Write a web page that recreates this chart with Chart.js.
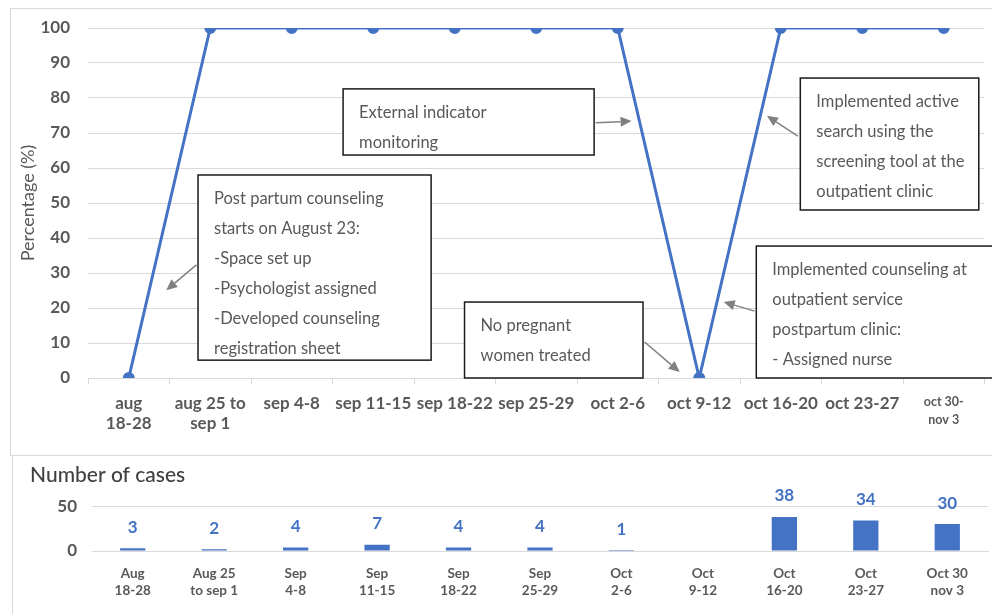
<!DOCTYPE html>
<html>
<head>
<meta charset="utf-8">
<script src="https://cdn.jsdelivr.net/npm/chart.js@4/dist/chart.umd.min.js"></script>
<style>
  html, body { margin: 0; padding: 0; background: #fff; }
  body { width: 992px; height: 614px; position: relative; overflow: hidden; }
  .panel { position: absolute; box-sizing: border-box; border: 1px solid #d9d9d9; background: #fff; }
  #topPanel { left: 10px; top: 8px; width: 990px; height: 448px; }
  #bottomPanel { left: 12px; top: 455px; width: 990px; height: 170px; }
  canvas { position: absolute; display: block; }
  #pct { left: 10px; top: 8px; }
  #cases { left: 12px; top: 455px; }
</style>
</head>
<body>
<div class="panel" id="topPanel"></div>
<div class="panel" id="bottomPanel"></div>
<canvas id="pct" width="982" height="447"></canvas>
<canvas id="cases" width="980" height="159"></canvas>
<script>
// Weekly periods for the percentage chart (upper panel)
const weekLabelsTop = [
  ['aug', '18-28'], ['aug 25 to', 'sep 1'], 'sep 4-8', 'sep 11-15', 'sep 18-22',
  'sep 25-29', 'oct 2-6', 'oct 9-12', 'oct 16-20', 'oct 23-27', ['oct 30-', 'nov 3']
];
// Percentage of women screened / counseled each week
const percentScreened = [0, 100, 100, 100, 100, 100, 100, 0, 100, 100, 100];

// Weekly periods for the case count chart (lower panel)
const weekLabelsBottom = [
  ['Aug', '18-28'], ['Aug 25', 'to sep 1'], ['Sep', '4-8'], ['Sep', '11-15'], ['Sep', '18-22'],
  ['Sep', '25-29'], ['Oct', '2-6'], ['Oct', '9-12'], ['Oct', '16-20'], ['Oct', '23-27'], ['Oct 30', 'nov 3']
];
// Number of cases per week
const caseCounts = [3, 2, 4, 7, 4, 4, 1, 0, 38, 34, 30];

// Callout notes, placed in chart units (category index, percentage)
const notes = [
  { lines: ['Post partum counseling', 'starts on August 23:', '-Space set up', '-Psychologist assigned', '-Developed counseling', 'registration sheet'],
    box: [0.85, 58, 3.71, 5.1], arrow: [[0.83, 32.3], [0.46, 25.1]] },
  { lines: ['External indicator', 'monitoring'],
    box: [2.63, 82.6, 5.71, 63.7], arrow: [[5.73, 72.9], [6.17, 73.4]] },
  { lines: ['No pregnant', 'women treated'],
    box: [4.12, 21.7, 6.31, 0], arrow: [[6.33, 10.3], [6.76, 1.7]] },
  { lines: ['Implemented active', 'search using the', 'screening tool at the', 'outpatient clinic'],
    box: [8.24, 85.7, 10.43, 48], arrow: [[8.21, 69.1], [7.83, 74.9]] },
  { lines: ['Implemented counseling at', 'outpatient service', 'postpartum clinic:', '- Assigned nurse'],
    box: [7.70, 37.7, 10.7, 0], arrow: [[7.68, 19.1], [7.30, 21.7]] }
];

const BLUE = '#4472C4';
const GREY_TEXT = '#595959';
const GRID = '#d9d9d9';
Chart.defaults.font.family = 'Lato, "Open Sans", sans-serif';

function drawArrow(ctx, x0, y0, x1, y1) {
  const ang = Math.atan2(y1 - y0, x1 - x0);
  const headLen = 11, headHalf = 5;
  const bx = x1 - headLen * Math.cos(ang), by = y1 - headLen * Math.sin(ang);
  ctx.strokeStyle = '#808080';
  ctx.fillStyle = '#808080';
  ctx.lineWidth = 1.5;
  ctx.beginPath();
  ctx.moveTo(x0, y0);
  ctx.lineTo(bx, by);
  ctx.stroke();
  ctx.beginPath();
  ctx.moveTo(x1, y1);
  ctx.lineTo(bx + headHalf * Math.sin(ang), by - headHalf * Math.cos(ang));
  ctx.lineTo(bx - headHalf * Math.sin(ang), by + headHalf * Math.cos(ang));
  ctx.closePath();
  ctx.fill();
}

const notesPlugin = {
  id: 'notes',
  afterDatasetsDraw(chart) {
    const { ctx, scales: { x, y } } = chart;
    ctx.save();
    notes.forEach(n => {
      const left = x.getPixelForValue(n.box[0]);
      const top = y.getPixelForValue(n.box[1]);
      const right = x.getPixelForValue(n.box[2]);
      const bottom = y.getPixelForValue(n.box[3]);
      ctx.fillStyle = '#fff';
      ctx.fillRect(left, top, right - left, bottom - top);
      ctx.strokeStyle = '#1a1a1a';
      ctx.lineWidth = 1.5;
      ctx.strokeRect(left, top, right - left, bottom - top);
      ctx.fillStyle = GREY_TEXT;
      ctx.font = '16.5px Lato, sans-serif';
      ctx.textAlign = 'left';
      ctx.textBaseline = 'middle';
      n.lines.forEach((t, k) => ctx.fillText(t, left + 16, top + 24 + 30 * k));
      drawArrow(ctx,
        x.getPixelForValue(n.arrow[0][0]), y.getPixelForValue(n.arrow[0][1]),
        x.getPixelForValue(n.arrow[1][0]), y.getPixelForValue(n.arrow[1][1]));
    });
    ctx.restore();
  }
};

new Chart(document.getElementById('pct'), {
  type: 'line',
  data: {
    labels: weekLabelsTop,
    datasets: [{
      data: percentScreened,
      borderColor: BLUE,
      backgroundColor: BLUE,
      borderWidth: 3,
      pointRadius: 4.5,
      pointHoverRadius: 4.5,
      tension: 0
    }]
  },
  options: {
    responsive: false,
    animation: false,
    layout: { padding: { top: 20, right: 1, left: 0, bottom: 0 } },
    plugins: { legend: { display: false }, tooltip: { enabled: false } },
    scales: {
      x: {
        offset: true,
        grid: { offset: true, drawOnChartArea: false, drawTicks: true, tickLength: 6, color: GRID },
        border: { color: GRID },
        ticks: {
          autoSkip: false, maxRotation: 0, minRotation: 0, padding: 9, color: GREY_TEXT,
          font: c => c.index === 10 ? { size: 12.5, weight: 'bold', lineHeight: 1.45 } : { size: 17, weight: 'bold', lineHeight: 1.2 }
        },
        afterFit(s) { s.height = 77; }
      },
      y: {
        min: 0, max: 100,
        ticks: { stepSize: 10, padding: 18, color: GREY_TEXT, font: { size: 17, weight: 'bold' } },
        grid: { color: GRID, drawTicks: false },
        border: { display: false },
        title: { display: true, text: 'Percentage (%)', color: GREY_TEXT, font: { size: 18 }, padding: { top: 7, bottom: 0 } },
        afterFit(s) { s.width = 78; s.paddingTop = 0; s.paddingBottom = 0; }
      }
    }
  },
  plugins: [notesPlugin]
});

const barLabelPlugin = {
  id: 'barLabels',
  afterDatasetsDraw(chart) {
    const { ctx } = chart;
    const meta = chart.getDatasetMeta(0);
    ctx.save();
    ctx.font = 'bold 17px Lato, sans-serif';
    ctx.fillStyle = BLUE;
    ctx.textAlign = 'center';
    ctx.textBaseline = 'middle';
    meta.data.forEach((bar, i) => {
      const v = caseCounts[i];
      if (!v) return;
      ctx.fillText(String(v), bar.x, bar.y - 21);
    });
    ctx.restore();
  }
};

new Chart(document.getElementById('cases'), {
  type: 'bar',
  data: {
    labels: weekLabelsBottom,
    datasets: [{
      data: caseCounts,
      backgroundColor: BLUE,
      barPercentage: 0.31,
      categoryPercentage: 1
    }]
  },
  options: {
    responsive: false,
    animation: false,
    layout: { padding: { top: 0, right: 4, left: 18, bottom: 0 } },
    plugins: {
      legend: { display: false },
      tooltip: { enabled: false },
      title: {
        display: true, text: 'Number of cases', align: 'start', color: '#404040',
        font: { size: 21, weight: '500', lineHeight: 1.2 }, padding: { top: 8, bottom: 18 }
      }
    },
    scales: {
      x: {
        grid: { display: false },
        border: { color: GRID },
        ticks: { autoSkip: false, maxRotation: 0, minRotation: 0, padding: 7, color: GREY_TEXT,
                 font: { size: 13.5, weight: 'bold', lineHeight: 1.2 } },
        afterFit(s) { s.height = 63; }
      },
      y: {
        min: 0, max: 50,
        ticks: { stepSize: 50, padding: 15, color: GREY_TEXT, font: { size: 17, weight: 'bold' } },
        grid: { color: GRID, drawTicks: false },
        border: { display: false },
        afterFit(s) { s.width = 62; }
      }
    }
  },
  plugins: [barLabelPlugin]
});
</script>
</body>
</html>
